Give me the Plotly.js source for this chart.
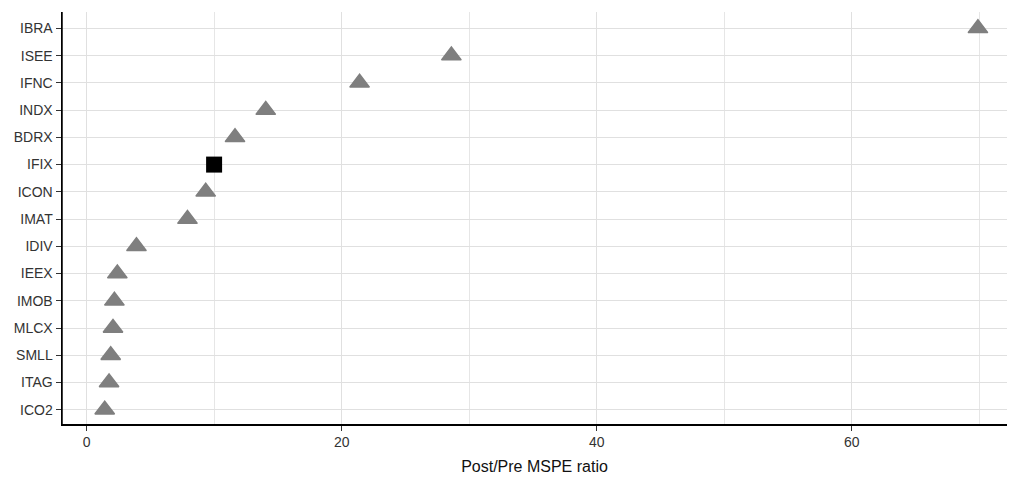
<!DOCTYPE html>
<html>
<head>
<meta charset="utf-8">
<script src="https://cdn.plot.ly/plotly-3.0.1.min.js"></script>
<style>html,body{margin:0;padding:0;background:#fff;}#chart{width:1009px;height:479px;}</style>
</head>
<body>
<div id="chart"></div>
<script>
// Data (bottom to top)
const indices = ["ICO2","ITAG","SMLL","MLCX","IMOB","IEEX","IDIV","IMAT","ICON","IFIX","BDRX","INDX","IFNC","ISEE","IBRA"];
const ratios  = [1.41, 1.75, 1.88, 2.06, 2.17, 2.4, 3.9, 7.9, 9.33, 9.99, 11.63, 14.04, 21.4, 28.6, 69.9];
const treated = "IFIX";

const donorIdx = indices.filter(n => n !== treated);
const donorVal = ratios.filter((v, i) => indices[i] !== treated);
const trIdx = indices.filter(n => n === treated);
const trVal = ratios.filter((v, i) => indices[i] === treated);

const traces = [
  {type: "scatter", mode: "markers", x: donorVal, y: donorIdx,
   marker: {symbol: "triangle-up", size: 17, color: "#7f7f7f", line: {color: "#7f7f7f", width: 1.5}}, hoverinfo: "x+y"},
  {type: "scatter", mode: "markers", x: trVal, y: trIdx,
   marker: {symbol: "square", size: 16, color: "#000000"}, hoverinfo: "x+y"}
];

const layout = {
  width: 1009, height: 479,
  margin: {l: 62, r: 2, t: 12, b: 55},
  paper_bgcolor: "#ffffff", plot_bgcolor: "#ffffff",
  showlegend: false,
  font: {family: "Liberation Sans, Arial, sans-serif", color: "#333333", size: 14},
  xaxis: {
    range: [-1.94, 72.18], dtick: 20, tick0: 0,
    showgrid: true, gridcolor: "#e0e0e0", gridwidth: 1,
    minor: {dtick: 10, showgrid: true, gridcolor: "#e6e6e6", gridwidth: 1},
    zeroline: false,
    showline: true, linecolor: "#000000", linewidth: 1.5, mirror: false,
    ticks: "outside", ticklen: 5, tickwidth: 1, tickcolor: "#333333",
    tickfont: {size: 14, color: "#333333"},
    title: {text: "Post/Pre MSPE ratio", font: {size: 16, color: "#111111"}, standoff: 11}
  },
  yaxis: {
    type: "category", categoryorder: "array", categoryarray: indices,
    range: [-0.52, 14.6], anchor: "x", side: "left",
    showgrid: true, gridcolor: "#e0e0e0", gridwidth: 1,
    zeroline: false,
    showline: true, linecolor: "#000000", linewidth: 1.5, mirror: false,
    ticks: "outside", ticklen: 5, tickwidth: 1, tickcolor: "#333333",
    tickfont: {size: 14, color: "#333333"}
  },
  shapes: [
    {type: "line", xref: "paper", yref: "paper", x0: 0, x1: 0, y0: 0, y1: 1,
     line: {color: "#000000", width: 1.5}, layer: "above"}
  ]
};

Plotly.newPlot("chart", traces, layout, {displayModeBar: false, staticPlot: true});
</script>
</body>
</html>
